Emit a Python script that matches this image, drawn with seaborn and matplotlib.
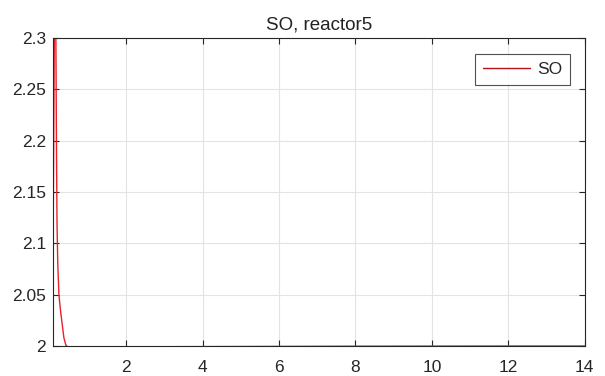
import numpy as np
import pandas as pd
import matplotlib
matplotlib.use("Agg")
import matplotlib.pyplot as plt
import seaborn as sns

# time values and SO concentration
t = [0.09, 0.105, 0.12, 0.135, 0.15, 0.16, 0.175, 0.19, 0.21, 0.24, 0.28, 0.33,
     0.37, 0.42, 0.48, 0.6, 0.8, 1.0, 2.0, 4.0, 6.0, 8.0, 10.0, 12.0, 14.0]
so = [2.11, 2.21, 2.30, 2.40, 2.36, 2.30, 2.20, 2.12, 2.08, 2.05, 2.035, 2.02,
      2.008, 2.001, 1.9985, 1.9985, 1.999, 1.999, 1.9992, 1.9994, 1.9996,
      1.9998, 1.9999, 2.0, 2.0]
xticks = [2, 4, 6, 8, 10, 12, 14]
yticks = [2.0, 2.05, 2.1, 2.15, 2.2, 2.25, 2.3]
ylabels = ["2", "2.05", "2.1", "2.15", "2.2", "2.25", "2.3"]

df = pd.DataFrame({"t": t, "SO": so})

sns.set_style("whitegrid")
plt.rcParams['font.family'] = ['Liberation Sans', 'DejaVu Sans']

fig = plt.figure(figsize=(6.05, 3.76), dpi=100)
ax = fig.add_axes([0.0876, 0.0798, 0.879, 0.819])

sns.lineplot(data=df, x="t", y="SO", ax=ax, color="#e8212b", linewidth=1.0,
             label="SO")

ax.set_xlim(0.085, 14.0)
ax.set_ylim(2.0, 2.3)
ax.set_xticks(xticks)
ax.set_xticklabels([str(v) for v in xticks])
ax.set_yticks(yticks)
ax.set_yticklabels(ylabels)
ax.set_xlabel("")
ax.set_ylabel("")
ax.set_title("SO, reactor5", fontsize=13.5, color="#222222", pad=6)

ax.grid(True, color="#e3e3e3", linewidth=0.8)
for s in ax.spines.values():
    s.set_visible(True)
    s.set_color("#262626")
    s.set_linewidth(0.8)
ax.tick_params(direction="in", length=4, width=0.8, color="#262626",
               labelsize=12.5, labelcolor="#262626", top=True, right=True,
               bottom=True, left=True, pad=5)
ax.tick_params(axis="x", labeltop=False, pad=10)
ax.tick_params(axis="y", labelright=False)

leg = ax.legend(loc="upper right", fontsize=12.5, frameon=True, fancybox=False,
                handlelength=2.7, handletextpad=0.4, borderpad=0.45,
                borderaxespad=0, bbox_to_anchor=(0.972, 0.948))
leg.get_frame().set_edgecolor("#262626")
leg.get_frame().set_linewidth(0.8)
leg.get_lines()[0].set_color("#b5121b")

fig.savefig("out.png", dpi=100)
